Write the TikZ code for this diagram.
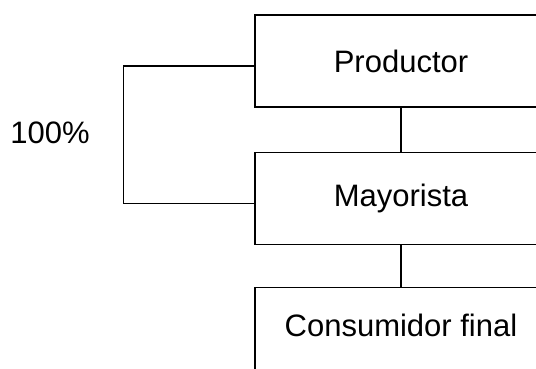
\documentclass[tikz,border=0pt]{standalone}
\usepackage{fontspec}
\setmainfont{Liberation Sans}
\usetikzlibrary{positioning}
\tikzset{
  level/.style={draw,line width=1.3pt,minimum width=292pt,minimum height=92pt,
    inner sep=0pt,font=\fontsize{31}{37}\selectfont},
  link/.style={line width=1.3pt}
}
\begin{document}
\begin{tikzpicture}[x=1pt,y=-1pt,node distance=44pt]
            \useasboundingbox (0,0) rectangle (536,369);
            \node [level] (prod) at (401,61) {Productor};
            \node [level,below=of prod] (may) {Mayorista};
            \node [level,text depth=17pt,below=42pt of may] (cons) {Consumidor final};
            \draw [link] (prod) -- (may);
            \draw [link] (may) -- (cons);
            \draw [link] ([yshift=-5pt]prod.west) -- ++(-131,0) |- ([yshift=-5pt]may.west);
            \node [font=\fontsize{31}{37}\selectfont] (pct) at (50,133) {100\%};
         \end{tikzpicture}
\end{document}
